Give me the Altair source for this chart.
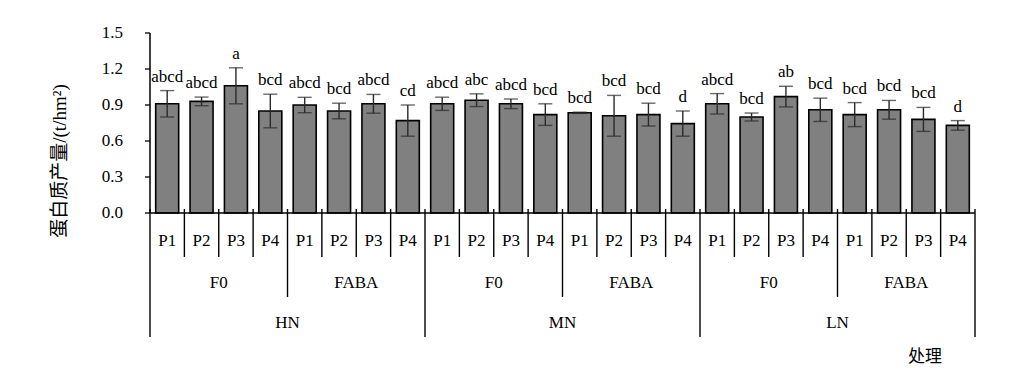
import altair as alt
import pandas as pd

n_levels = ["HN"] * 8 + ["MN"] * 8 + ["LN"] * 8
f_levels = (["F0"] * 4 + ["FABA"] * 4) * 3
p_levels = ["P1", "P2", "P3", "P4"] * 6

means = [0.91, 0.93, 1.06, 0.85, 0.90, 0.85, 0.91, 0.77,
         0.91, 0.94, 0.91, 0.82, 0.835, 0.81, 0.82, 0.745,
         0.91, 0.80, 0.97, 0.86, 0.82, 0.86, 0.78, 0.73]
errors = [0.11, 0.036, 0.15, 0.14, 0.064, 0.065, 0.078, 0.13,
          0.055, 0.053, 0.04, 0.09, 0.005, 0.17, 0.095, 0.105,
          0.085, 0.033, 0.086, 0.097, 0.10, 0.078, 0.10, 0.04]
letters = ["abcd", "abcd", "a", "bcd", "abcd", "bcd", "abcd", "cd",
           "abcd", "abc", "abcd", "bcd", "bcd", "bcd", "bcd", "d",
           "abcd", "bcd", "ab", "bcd", "bcd", "bcd", "bcd", "d"]
y_ticks = [0.0, 0.3, 0.6, 0.9, 1.2, 1.5]
y_tick_labels = ["0.0", "0.3", "0.6", "0.9", "1.2", "1.5"]

y_title = "蛋白质产量/(t/hm²)"
x_title = "处理"

SERIF = "Liberation Serif, Noto Sans CJK SC"
FS = 17

df = pd.DataFrame({
    "N": n_levels, "F": f_levels, "P": p_levels,
    "mean": means, "err": errors, "letter": letters,
})
df["pos"] = [i + 0.5 for i in range(len(df))]
df["lo"] = df["mean"] - df["err"]
df["hi"] = df["mean"] + df["err"]

# group label positions
df["fgrp"] = [i // 4 for i in range(len(df))]
df["ngrp"] = [i // 8 for i in range(len(df))]
f_df = df.groupby("fgrp").agg(pos=("pos", "mean"), label=("F", "first")).reset_index()
n_df = df.groupby("ngrp").agg(pos=("pos", "mean"), label=("N", "first")).reset_index()

# separators at category boundaries
bounds = list(range(len(df) + 1))
sep_df = pd.DataFrame({
    "b": bounds,
    "level": [3 if b % 8 == 0 else (2 if b % 4 == 0 else 1) for b in bounds],
})

tick_df = pd.DataFrame({"v": y_ticks, "lab": y_tick_labels})
yaxis_df = pd.DataFrame({"x": [0], "y0": [y_ticks[0]], "y1": [y_ticks[-1]]})
xaxis_df = pd.DataFrame({"x0": [0], "x1": [len(df)], "y": [0.0]})

xs = alt.Scale(domain=[0, len(df)], nice=False, zero=False)
ys = alt.Scale(domain=[0, 1.5], nice=False)


def X(field):
    return alt.X(field, type="quantitative", scale=xs, axis=None)


def Y(field):
    return alt.Y(field, type="quantitative", scale=ys, axis=None)


base = alt.Chart(df)

bars = base.mark_bar(size=23, fill="#808080", stroke="black", strokeWidth=1.6).encode(
    x=X("pos"), y=Y("mean"))

err_rule = base.mark_rule(color="#2a2a2a", strokeWidth=1.4).encode(
    x=X("pos"), y=Y("lo"), y2="hi:Q")
cap_hi = base.mark_tick(orient="horizontal", size=14, thickness=1.4, color="#2a2a2a").encode(
    x=X("pos"), y=Y("hi"))
cap_lo = base.mark_tick(orient="horizontal", size=14, thickness=1.4, color="#2a2a2a").encode(
    x=X("pos"), y=Y("lo"))

letter_text = base.mark_text(font=SERIF, fontSize=FS, color="black", baseline="alphabetic", dy=-9).encode(
    x=X("pos"), y=Y("hi"), text="letter:N")

# axes drawn by hand
yaxis_line = alt.Chart(yaxis_df).mark_rule(color="black", strokeWidth=1.5).encode(
    x=X("x"), y=Y("y0"), y2="y1:Q")
xaxis_line = alt.Chart(xaxis_df).mark_rule(color="black", strokeWidth=1.5).encode(
    x=X("x0"), x2="x1:Q", y=Y("y"))
yticks = alt.Chart(tick_df).mark_rule(color="black", strokeWidth=1.3).encode(
    x=alt.value(0), x2=alt.value(5), y=Y("v"))
ylabels = alt.Chart(tick_df).mark_text(font=SERIF, fontSize=FS, color="black",
                                       align="right", baseline="middle").encode(
    x=alt.value(-22), y=Y("v"), text="lab:N")

seps = []
for lvl, y2 in [(1, 224), (2, 264), (3, 304)]:
    seps.append(
        alt.Chart(sep_df).transform_filter(alt.datum.level == lvl)
        .mark_rule(color="black", strokeWidth=1.4)
        .encode(x=X("b"), y=alt.value(176), y2=alt.value(y2))
    )

p_text = base.mark_text(font=SERIF, fontSize=FS, color="black", baseline="middle").encode(
    x=X("pos"), y=alt.value(208), text="P:N")
f_text = alt.Chart(f_df).mark_text(font=SERIF, fontSize=FS, color="black", baseline="middle").encode(
    x=X("pos"), y=alt.value(250), text="label:N")
n_text = alt.Chart(n_df).mark_text(font=SERIF, fontSize=FS, color="black", baseline="middle").encode(
    x=X("pos"), y=alt.value(290), text="label:N")

ytitle = alt.Chart(pd.DataFrame({"t": [y_title]})).mark_text(
    font=SERIF, fontSize=19, color="black", angle=270, baseline="middle", align="center"
).encode(x=alt.value(-85), y=alt.value(128), text="t:N")

xtitle = alt.Chart(pd.DataFrame({"t": [x_title]})).mark_text(
    font=SERIF, fontSize=FS, color="black", baseline="middle", align="center"
).encode(x=alt.value(780), y=alt.value(324), text="t:N")

chart = alt.layer(
    bars, err_rule, cap_hi, cap_lo, letter_text, yaxis_line, xaxis_line, yticks, ylabels,
    *seps, p_text, f_text, n_text, ytitle, xtitle
).properties(
    width=835, height=180,
    autosize=alt.AutoSizeParams(type="none"),
    padding={"left": 137, "top": 25, "right": 43, "bottom": 166},
    background="white",
).configure_view(stroke=None)

chart.save("out.html", embed_options={"renderer": "svg", "actions": False})
